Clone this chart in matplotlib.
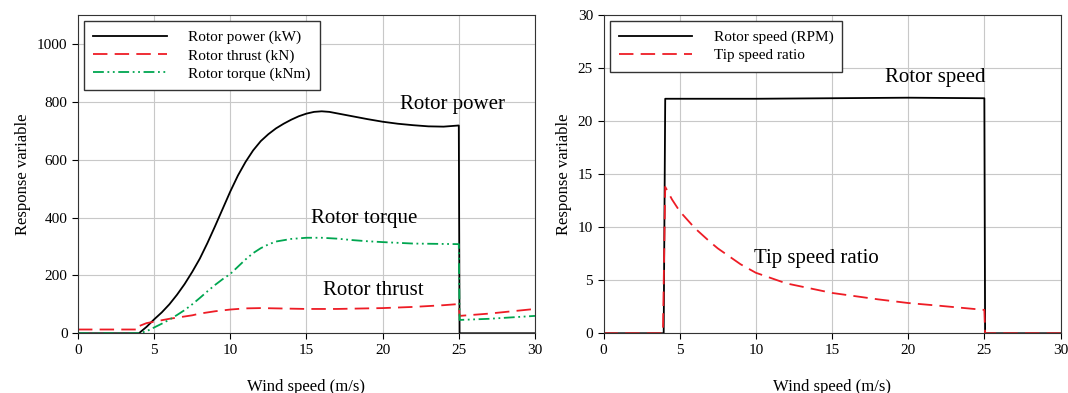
"""Wind turbine rotor response vs wind speed."""
import matplotlib.pyplot as plt
import numpy as np

plt.rcParams['font.family'] = ['Liberation Serif', 'DejaVu Serif']

# left panel data
wind_power = [0, 4, 4.5, 5, 5.5, 6, 6.5, 7, 7.5, 8, 8.5, 9, 9.5, 10, 10.5, 11, 11.5, 12, 12.5,
              13, 13.5, 14, 14.5, 15, 15.5, 16, 16.5, 17, 18, 19, 20, 21, 22, 23, 24, 25, 25.05, 30]
power = [0, 0, 22, 48, 72, 100, 133, 170, 212, 258, 312, 370, 430, 490, 545, 592, 632, 664, 688,
         708, 724, 738, 750, 759, 765, 767, 765, 760, 750, 740, 731, 724, 719, 715, 714, 718, 0, 0]

wind_thrust = [0, 4, 4.02, 4.5, 5, 6, 7, 7.5, 8, 9, 10, 11, 12, 13, 15, 17, 20, 22, 24, 25, 25.05, 27, 30]
thrust = [13, 13, 25, 35, 40, 50, 58, 62, 68, 76, 82, 86, 87, 86, 84, 84, 87, 91, 97, 101, 60, 68, 84]

wind_torque = [0, 4, 4.5, 5, 5.5, 6, 6.5, 7, 7.5, 8, 8.5, 9, 9.5, 10, 10.5, 11, 11.5, 12, 12.5,
               13, 14, 15, 16, 17, 18, 19, 20, 22, 25, 25.05, 27, 30]
torque = [0, 0, 7, 20, 33, 47, 63, 80, 100, 122, 145, 167, 187, 205, 230, 255, 277, 294, 307,
          317, 326, 330, 330, 327, 322, 318, 315, 310, 308, 46, 50, 60]

# right panel data
wind_rpm = [0, 3.95, 4.05, 10, 15, 20, 25, 25.05, 30]
rpm = [0, 0, 22.1, 22.1, 22.15, 22.2, 22.15, 0, 0]

wind_tsr = [0, 3.9, 4.05, 4.5, 5, 6, 7, 7.5, 8, 9, 10, 12, 15, 18, 20, 22, 25, 25.05, 30]
tsr = [0, 0, 13.8, 12.6, 11.5, 9.9, 8.6, 8.0, 7.5, 6.5, 5.7, 4.7, 3.8, 3.2, 2.85, 2.6, 2.2, 0, 0]

fig, (ax1, ax2) = plt.subplots(1, 2, figsize=(10.68, 3.93), dpi=100)
fig.subplots_adjust(left=0.073, right=0.993, top=0.962, bottom=0.152, wspace=0.15)

ax1.plot(wind_power, power, color='black', lw=1.3, label='Rotor power (kW)')
ax1.plot(wind_thrust, thrust, color='#ee1c25', lw=1.3, dashes=(8, 4), label='Rotor thrust (kN)')
ax1.plot(wind_torque, torque, color='#00a650', lw=1.3, dashes=(6, 2, 1, 2, 1, 2), label='Rotor torque (kNm)')
ax1.set_xlim(0, 30)
ax1.set_ylim(0, 1100)
ax1.set_yticks([0, 200, 400, 600, 800, 1000])
ax1.set_xticks(range(0, 31, 5))
ax1.set_ylabel('Response variable', fontsize=12)
ax1.set_xlabel('Wind speed (m/s)', fontsize=12, labelpad=16)
ax1.text(24.6, 790, 'Rotor power', fontsize=15, ha='center', va='center')
ax1.text(18.8, 397, 'Rotor torque', fontsize=15, ha='center', va='center')
ax1.text(19.4, 148, 'Rotor thrust', fontsize=15, ha='center', va='center')

ax2.plot(wind_rpm, rpm, color='black', lw=1.3, label='Rotor speed (RPM)')
ax2.plot(wind_tsr, tsr, color='#ee1c25', lw=1.3, dashes=(8, 4), label='Tip speed ratio')
ax2.set_xlim(0, 30)
ax2.set_ylim(0, 30)
ax2.set_xticks(range(0, 31, 5))
ax2.set_yticks(range(0, 31, 5))
ax2.set_ylabel('Response variable', fontsize=12)
ax2.set_xlabel('Wind speed (m/s)', fontsize=12, labelpad=16)
ax2.text(21.8, 24.15, 'Rotor speed', fontsize=15, ha='center', va='center')
ax2.text(14.0, 7.07, 'Tip speed ratio', fontsize=15, ha='center', va='center')

for ax in (ax1, ax2):
    ax.grid(True, color='#c8c8c8', lw=0.8)
    ax.set_axisbelow(True)
    ax.tick_params(labelsize=11, direction='out', length=4)
    for s in ax.spines.values():
        s.set_color('#333333')
    leg = ax.legend(loc='upper left', fontsize=11, handlelength=4.8, fancybox=False,
                    edgecolor='#333333', framealpha=1, borderaxespad=0.4, handletextpad=1.4,
                    labelspacing=0.3, borderpad=0.6)
    leg.get_frame().set_linewidth(1.0)

plt.savefig('out.png')
